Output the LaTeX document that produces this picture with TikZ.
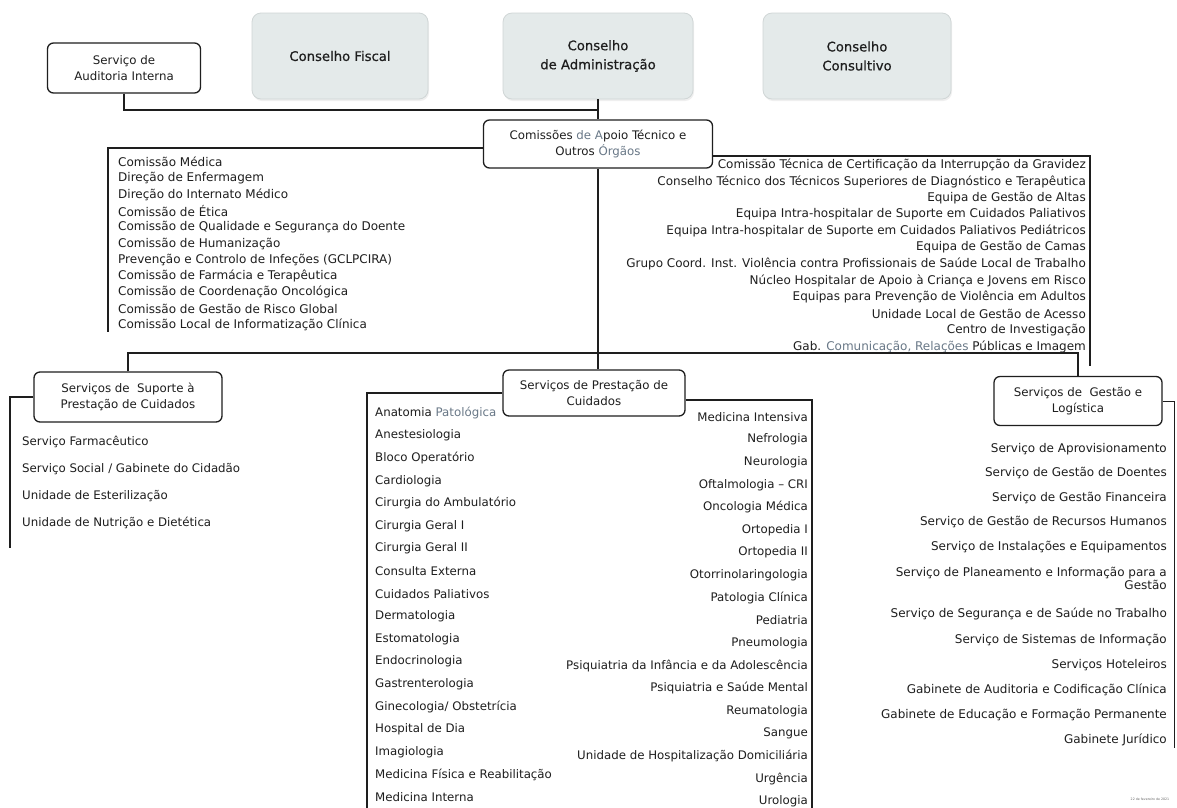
\documentclass[tikz,border=0pt]{standalone}
\usepackage{fontspec}
\setmainfont{DejaVu Sans}
\newfontfamily\heavyfont{DejaVu Sans}[FakeBold=0.6]
\usetikzlibrary{shadows}
\definecolor{gfill}{RGB}{228,234,234}
\definecolor{gline}{RGB}{208,214,214}
\definecolor{ink}{RGB}{30,30,30}
\definecolor{faded}{RGB}{105,120,135}
\tikzset{
  conn/.style={draw=ink, line width=1.3pt},
  wbox/.style={draw=ink, line width=1.3pt, rounded corners=6pt, fill=white,
    align=center, inner sep=0pt, text=ink, font=\fontsize{11.8}{16}\selectfont},
  gbox/.style={draw=gline, line width=0.8pt, rounded corners=9pt, fill=gfill,
    align=center, inner sep=0pt, text=ink, font=\heavyfont\fontsize{13.2}{19}\selectfont,
    drop shadow={shadow xshift=1pt, shadow yshift=-2pt, fill=black!12}},
  itemL/.style={anchor=west, inner sep=0pt, text=ink, font=\fontsize{12}{14}\selectfont},
  itemR/.style={anchor=east, inner sep=0pt, text=ink, font=\fontsize{12}{14}\selectfont},
  itemP/.style={inner sep=0pt, text=ink, font=\fontsize{11.8}{14}\selectfont},
  itemG/.style={anchor=east, inner sep=0pt, text=ink, align=right, font=\fontsize{12}{14}\selectfont},
}
\begin{document}
\begin{tikzpicture}[x=1pt, y=-1pt]
\useasboundingbox (0,0) rectangle (1177,807);
\fill[white] (0,0) rectangle (1177,807);

% top level
\node[wbox, minimum width=153pt, minimum height=50pt] (aud) at (124,68) {Serviço de\\Auditoria Interna};
\node[gbox, minimum width=176pt, minimum height=86pt] (fiscal) at (340,56) {Conselho Fiscal};
\node[gbox, minimum width=190pt, minimum height=86pt] (admin) at (598,56) {Conselho\\de Administração};
\node[gbox, minimum width=188pt, minimum height=86pt] (consult) at (857,56) {Conselho\\Consultivo};

\node[wbox, minimum width=229pt, minimum height=48pt] (com) at (598,144) {Comissões {\color{faded}de A}poio Técnico e\\Outros {\color{faded}Órgãos}};

\coordinate (j1) at (598,110);
\draw[conn] (admin.south) -- (com.north);
\draw[conn] (aud.south) |- (j1);

% left list of commissions
\coordinate (ll1) at (108,148);
\coordinate (ll2) at (108,332);
\draw[conn] ([yshift=-4pt]com.west) -- (ll1) -- (ll2);
\foreach \t [count=\i from 0] in {Comissão Médica, Direção de Enfermagem, Direção do Internato Médico, Comissão de Ética, Comissão de Qualidade e Segurança do Doente, Comissão de Humanização, Prevenção e Controlo de Infeções (GCLPCIRA), Comissão de Farmácia e Terapêutica, Comissão de Coordenação Oncológica, Comissão de Gestão de Risco Global, Comissão Local de Informatização Clínica}
  \node[itemL] (cl\i) at (118,{162+16.3*\i}) {\t};

% right list of commissions
\coordinate (rl1) at (1090,156);
\coordinate (rl2) at (1090,366);
\draw[conn] ([yshift=-12pt]com.east) -- (rl1) -- (rl2);
\foreach \t [count=\i from 0] in {Comissão Técnica de Certificação da Interrupção da Gravidez, Conselho Técnico dos Técnicos Superiores de Diagnóstico e Terapêutica, Equipa de Gestão de Altas, Equipa Intra-hospitalar de Suporte em Cuidados Paliativos, Equipa Intra-hospitalar de Suporte em Cuidados Paliativos Pediátricos, Equipa de Gestão de Camas, Grupo Coord. Inst. Violência contra Profissionais de Saúde Local de Trabalho, Núcleo Hospitalar de Apoio à Criança e Jovens em Risco, Equipas para Prevenção de Violência em Adultos, Unidade Local de Gestão de Acesso, Centro de Investigação}
  \node[itemR] (cr\i) at (1086,{165+16.5*\i}) {\t};
\node[itemR] (cr11) at (1086,{165+16.5*11}) {Gab. {\color{faded}Comunicação, Relações} Públicas e Imagem};

% third level
\node[wbox, minimum width=188pt, minimum height=50pt] (sup) at (128,397) {Serviços de \ Suporte à\\Prestação de Cuidados};
\node[wbox, minimum width=182pt, minimum height=46pt] (prest) at (594,393) {Serviços de Prestação de\\Cuidados};
\node[wbox, minimum width=168pt, minimum height=49pt] (gest) at (1078,401) {Serviços de \ Gestão e\\Logística};

\coordinate (h) at (598,353);
\draw[conn] (com.south) -- (com.south |- prest.north);
\draw[conn] (sup.north) -- (sup.north |- h) -| (gest.north);

% suporte
\coordinate (s1) at (10,397);
\coordinate (s2) at (10,548);
\draw[conn] (sup.west) -- (s1) -- (s2);
\node[itemP, anchor=west] (sp1) at (22,442) {Serviço Farmacêutico};
\node[itemP, anchor=west] (sp2) at (22,469) {Serviço Social / Gabinete do Cidadão};
\node[itemP, anchor=west] (sp3) at (22,496) {Unidade de Esterilização};
\node[itemP, anchor=west] (sp4) at (22,523) {Unidade de Nutrição e Dietética};

% prestação frame
\coordinate (p1) at (367,393);
\coordinate (p2) at (367,810);
\coordinate (p3) at (812,400);
\coordinate (p4) at (812,810);
\draw[conn] (prest.west) -- (p1) -- (p2);
\draw[conn] ([yshift=-7pt]prest.east) -- (p3) -- (p4);
\node[itemP, anchor=west] (pl0) at (375,413) {Anatomia {\color{faded}Patológica}};
\foreach \t [count=\i from 1] in {Anestesiologia, Bloco Operatório, Cardiologia, Cirurgia do Ambulatório, Cirurgia Geral I, Cirurgia Geral II, Consulta Externa, Cuidados Paliativos, Dermatologia, Estomatologia, Endocrinologia, Gastrenterologia, Ginecologia/ Obstetrícia, Hospital de Dia, Imagiologia, Medicina Física e Reabilitação, Medicina Interna}
  \node[itemP, anchor=west] (pl\i) at (375,{413+22.6*\i}) {\t};
\foreach \t [count=\i from 0] in {Medicina Intensiva, Nefrologia, Neurologia, Oftalmologia – CRI, Oncologia Médica, Ortopedia I, Ortopedia II, Otorrinolaringologia, Patologia Clínica, Pediatria, Pneumologia, Psiquiatria da Infância e da Adolescência, Psiquiatria e Saúde Mental, Reumatologia, Sangue, Unidade de Hospitalização Domiciliária, Urgência, Urologia}
  \node[itemP, anchor=east] (pr\i) at (808,{417+22.6*\i}) {\t};

% gestão
\coordinate (g1) at (1174,401);
\coordinate (g2) at (1174,748);
\draw[conn, line width=0.8pt] (gest.east) -- (g1) -- (g2);
\node[itemG] (gs1) at (1167,449) {Serviço de Aprovisionamento};
\node[itemG] (gs2) at (1167,473) {Serviço de Gestão de Doentes};
\node[itemG] (gs3) at (1167,498) {Serviço de Gestão Financeira};
\node[itemG] (gs4) at (1167,522) {Serviço de Gestão de Recursos Humanos};
\node[itemG] (gs5) at (1167,547) {Serviço de Instalações e Equipamentos};
\node[itemG, font=\fontsize{12}{13}\selectfont] (gsp) at (1167,578) {Serviço de Planeamento e Informação para a\\Gestão};
\node[itemG] (gs6) at (1167,614) {Serviço de Segurança e de Saúde no Trabalho};
\node[itemG] (gs7) at (1167,640) {Serviço de Sistemas de Informação};
\node[itemG] (gs8) at (1167,665) {Serviços Hoteleiros};
\node[itemG] (gs9) at (1167,690) {Gabinete de Auditoria e Codificação Clínica};
\node[itemG] (gs10) at (1167,715) {Gabinete de Educação e Formação Permanente};
\node[itemG] (gs11) at (1167,740) {Gabinete Jurídico};

\node[inner sep=0pt, text=black!60, font=\fontsize{3.2}{4}\selectfont] (date) at (1150,799) {22 de fevereiro de 2021};
\end{tikzpicture}
\end{document}
